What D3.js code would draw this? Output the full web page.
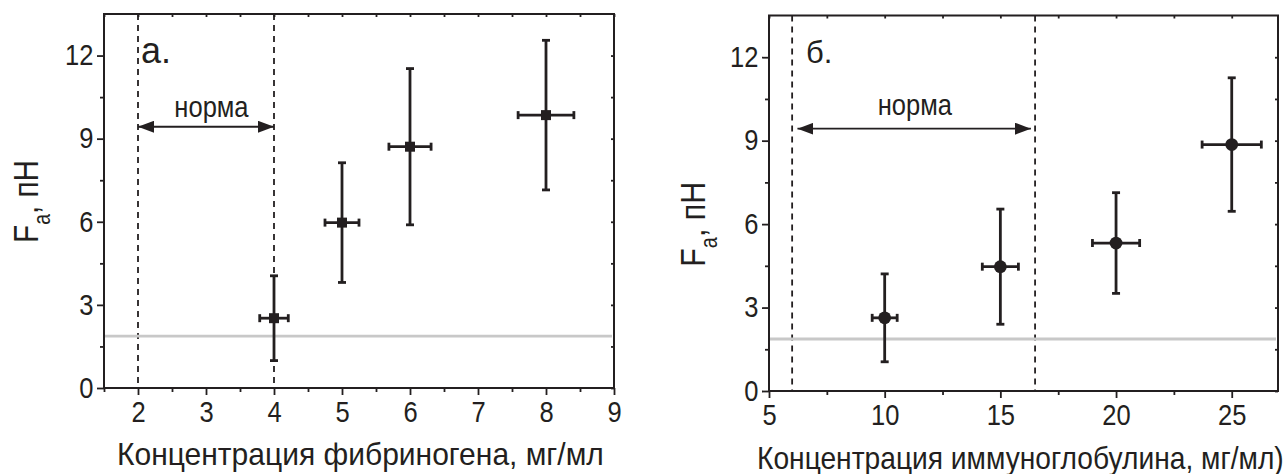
<!DOCTYPE html>
<html>
<head>
<meta charset="utf-8">
<script src="https://cdn.jsdelivr.net/npm/d3@7"></script>
<style>
  html, body { margin: 0; padding: 0; background: #fff; }
  svg { display: block; }
</style>
</head>
<body>
<svg id="chart" width="1286" height="474"></svg>
<script>
// ---- Data ----
// Panel а: fibrinogen
const fibX = [4, 5, 6, 8];
const fibY = [2.52, 5.97, 8.71, 9.85];
const fibYErr = [1.53, 2.16, 2.82, 2.70];
const fibXErr = [0.21, 0.25, 0.31, 0.41];
const fibXTicks = [2, 3, 4, 5, 6, 7, 8, 9];
const fibXMinor = [1.5, 2.5, 3.5, 4.5, 5.5, 6.5, 7.5, 8.5];
const fibNorm = [2, 4];
const fibArrow = [2, 4];

// Panel б: immunoglobulin
const igX = [10, 15, 20, 25];
const igY = [2.63, 4.47, 5.32, 8.86];
const igYErr = [1.58, 2.07, 1.81, 2.40];
const igXErr = [0.54, 0.78, 1.02, 1.28];
const igXTicks = [5, 10, 15, 20, 25];
const igXMinor = [7.5, 12.5, 17.5, 22.5];
const igNorm = [6, 16.5];
const igArrow = [6.23, 16.32];

// Shared
const yTicks = [0, 3, 6, 9, 12];
const yMinor = [1.5, 4.5, 7.5, 10.5];
const baselineLevel = 1.87;
const arrowLevel = 9.43;
const normLabel = "норма";
const yLabelMain = "F";
const yLabelSub = "a";
const yLabelRest = ", пН";
const fibTitle = "Концентрация фибриногена, мг/мл";
const igTitle = "Концентрация иммуноглобулина, мг/мл)";

const INK = "#231f20";
const FONT = "'Liberation Sans', Arial, Helvetica, sans-serif";

const svg = d3.select("#chart");
svg.append("rect").attr("width", 1286).attr("height", 474).attr("fill", "#fff");

const defs = svg.append("defs");
defs.append("marker")
  .attr("id", "arrowEnd").attr("viewBox", "0 0 16 12")
  .attr("refX", 16).attr("refY", 6)
  .attr("markerWidth", 16).attr("markerHeight", 12)
  .attr("markerUnits", "userSpaceOnUse")
  .attr("orient", "auto-start-reverse")
  .append("path").attr("d", "M0,0 L16,6 L0,12 Z").attr("fill", INK);

function fitWidth(sel, target) {
  const w = sel.node().getComputedTextLength();
  return target / w;
}

const panels = [
  {
    left: 104, right: 614, top: 14, bottom: 388,
    xDomain: [1.5, 9], xs: fibX, ys: fibY, yErr: fibYErr, xErr: fibXErr,
    xTicks: fibXTicks, xMinor: fibXMinor, norm: fibNorm, arrow: fibArrow,
    marker: "square", tag: "а.", tagSize: 36, tagX: 141, tagY: 63,
    normX: 3.08, normY: 116.5,
    yLab: { x: 38, y: 243, w: 83 },
    title: fibTitle, titleX: 117, titleY: 465, titleW: 487
  },
  {
    left: 769, right: 1278, top: 15.5, bottom: 391,
    xDomain: [5, 27], xs: igX, ys: igY, yErr: igYErr, xErr: igXErr,
    xTicks: igXTicks, xMinor: igXMinor, norm: igNorm, arrow: igArrow,
    marker: "circle", tag: "б.", tagSize: 31, tagX: 806, tagY: 62.5,
    normX: 11.3, normY: 115,
    yLab: { x: 705, y: 266.7, w: 85 },
    title: igTitle, titleX: 757, titleY: 468.5, titleW: 527
  }
];

panels.forEach(p => {
  const x = d3.scaleLinear().domain(p.xDomain).range([p.left, p.right]);
  const y = d3.scaleLinear().domain([0, 13.5]).range([p.bottom, p.top]);
  const g = svg.append("g");

  // dashed "norm" boundary lines
  g.selectAll("line.norm").data(p.norm).join("line")
    .attr("x1", d => x(d)).attr("x2", d => x(d))
    .attr("y1", y(13.5)).attr("y2", y(0))
    .attr("stroke", INK).attr("stroke-width", 1.8)
    .attr("stroke-dasharray", "6,5");

  // gray reference line
  g.append("line")
    .attr("x1", x(p.xDomain[0])).attr("x2", x(p.xDomain[1]) - 2)
    .attr("y1", y(baselineLevel)).attr("y2", y(baselineLevel))
    .attr("stroke", "#c8c8c8").attr("stroke-width", 2.8);

  // double arrow
  g.append("line")
    .attr("x1", x(p.arrow[0])).attr("x2", x(p.arrow[1]))
    .attr("y1", y(arrowLevel)).attr("y2", y(arrowLevel))
    .attr("stroke", INK).attr("stroke-width", 1.8)
    .attr("marker-start", "url(#arrowEnd)")
    .attr("marker-end", "url(#arrowEnd)");

  const nt = g.append("text")
    .attr("font-family", FONT).attr("font-size", 29).attr("fill", INK)
    .attr("text-anchor", "middle")
    .text(normLabel);
  nt.attr("transform", `translate(${x(p.normX)},${p.normY}) scale(0.88,1)`);

  // error bars
  const pts = p.xs.map((v, i) => ({ x: v, y: p.ys[i], ey: p.yErr[i], ex: p.xErr[i] }));
  const eb = g.selectAll("g.eb").data(pts).join("g").attr("class", "eb");
  const sw = 2.8, cap = 4;
  eb.append("line")
    .attr("x1", d => x(d.x)).attr("x2", d => x(d.x))
    .attr("y1", d => y(d.y - d.ey)).attr("y2", d => y(d.y + d.ey))
    .attr("stroke", INK).attr("stroke-width", sw);
  eb.append("line")
    .attr("x1", d => x(d.x - d.ex)).attr("x2", d => x(d.x + d.ex))
    .attr("y1", d => y(d.y)).attr("y2", d => y(d.y))
    .attr("stroke", INK).attr("stroke-width", sw);
  [-1, 1].forEach(s => {
    eb.append("line")
      .attr("x1", d => x(d.x) - cap).attr("x2", d => x(d.x) + cap)
      .attr("y1", d => y(d.y + s * d.ey)).attr("y2", d => y(d.y + s * d.ey))
      .attr("stroke", INK).attr("stroke-width", sw);
    eb.append("line")
      .attr("x1", d => x(d.x + s * d.ex)).attr("x2", d => x(d.x + s * d.ex))
      .attr("y1", d => y(d.y) - cap).attr("y2", d => y(d.y) + cap)
      .attr("stroke", INK).attr("stroke-width", sw);
  });
  if (p.marker === "square") {
    eb.append("rect")
      .attr("x", d => x(d.x) - 5).attr("y", d => y(d.y) - 5)
      .attr("width", 10).attr("height", 10).attr("fill", INK);
  } else {
    eb.append("circle")
      .attr("cx", d => x(d.x)).attr("cy", d => y(d.y))
      .attr("r", 6.4).attr("fill", INK);
  }

  // axes
  const styleAxis = (ag, labels) => {
    ag.select(".domain").remove();
    ag.selectAll(".tick line").attr("stroke", INK).attr("stroke-width", 1.8);
    if (labels) {
      ag.selectAll(".tick text")
        .attr("font-family", FONT).attr("font-size", 29).attr("fill", INK)
        .attr("transform", "scale(0.88,1)");
    } else {
      ag.selectAll(".tick text").remove();
    }
  };
  // bottom
  svg.append("g").attr("transform", `translate(0,${p.bottom})`)
    .call(d3.axisBottom(x).tickValues(p.xTicks).tickSize(7).tickPadding(6).tickFormat(d3.format("d")))
    .call(a => styleAxis(a, true));
  svg.append("g").attr("transform", `translate(0,${p.bottom})`)
    .call(d3.axisBottom(x).tickValues(p.xMinor).tickSize(4))
    .call(a => styleAxis(a, false));
  // left
  svg.append("g").attr("transform", `translate(${p.left},0)`)
    .call(d3.axisLeft(y).tickValues(yTicks).tickSize(7).tickPadding(5).tickFormat(d3.format("d")))
    .call(a => styleAxis(a, true));
  svg.append("g").attr("transform", `translate(${p.left},0)`)
    .call(d3.axisLeft(y).tickValues(yMinor).tickSize(4))
    .call(a => styleAxis(a, false));
  // top & right mirrored (inward)
  svg.append("g").attr("transform", `translate(0,${p.top})`)
    .call(d3.axisTop(x).tickValues(p.xTicks.concat(p.xMinor)).tickSize(-3))
    .call(a => styleAxis(a, false));
  svg.append("g").attr("transform", `translate(${p.right},0)`)
    .call(d3.axisRight(y).tickValues(yTicks.concat(yMinor)).tickSize(-3))
    .call(a => styleAxis(a, false));

  // frame
  svg.append("rect")
    .attr("x", p.left).attr("y", p.top)
    .attr("width", p.right - p.left).attr("height", p.bottom - p.top)
    .attr("fill", "none").attr("stroke", INK).attr("stroke-width", 2);

  // panel tag
  svg.append("text")
    .attr("x", p.tagX).attr("y", p.tagY)
    .attr("font-family", FONT).attr("font-size", p.tagSize).attr("fill", INK)
    .text(p.tag);

  // x title
  const xt = svg.append("text")
    .attr("font-family", FONT).attr("font-size", 31).attr("fill", INK)
    .text(p.title);
  const sx = fitWidth(xt, p.titleW);
  xt.attr("transform", `translate(${p.titleX},${p.titleY}) scale(${sx},1)`);

  // y title
  const yt = svg.append("text")
    .attr("font-family", FONT).attr("font-size", 35).attr("fill", INK);
  yt.append("tspan").text(yLabelMain);
  yt.append("tspan").attr("font-size", 23).attr("dy", 12).text(yLabelSub);
  yt.append("tspan").attr("dy", -12).text(yLabelRest);
  const sy = fitWidth(yt, p.yLab.w);
  yt.attr("transform", `translate(${p.yLab.x},${p.yLab.y}) rotate(-90) scale(${sy},1)`);
});
</script>
</body>
</html>
